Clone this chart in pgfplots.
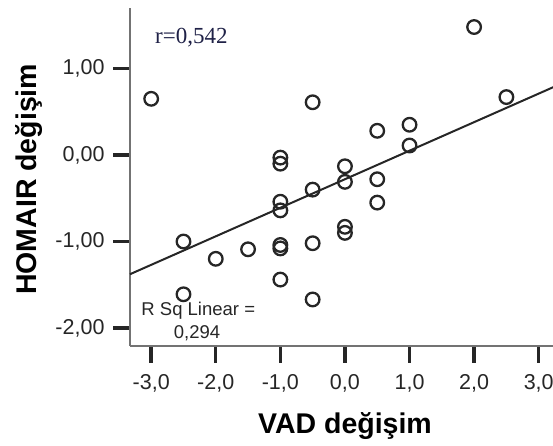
\documentclass[border=0pt]{standalone}
\usepackage{fontspec}
\setmainfont{Liberation Sans}
\newfontfamily\seriffont{Liberation Serif}
\usepackage{pgfplots}
\pgfplotsset{compat=1.18}

\definecolor{inkgray}{gray}{0.15}
\definecolor{spinegray}{gray}{0.45}
\definecolor{rtext}{rgb}{0.12,0.13,0.28}

\begin{document}
\begin{tikzpicture}[x=1pt,y=1pt]
  \useasboundingbox (0,0) rectangle (553,446);
  \clip (0,0) rectangle (553,446);
  \begin{axis}[
    at={(130pt,100pt)}, anchor=south west,
    scale only axis,
    width=430pt, height=338pt,
    xmin=-3.328, xmax=3.33,
    ymin=-2.208, ymax=1.70,
    clip=false,
    axis lines*=left,
    axis line style={-, draw=spinegray, line width=1.4pt},
    tick align=outside,
    major tick length=17pt,
    every tick/.style={line width=3.4pt, draw=black!85},
    xtick={-3,-2,-1,0,1,2,3},
    xticklabels={{-3,0},{-2,0},{-1,0},{0,0},{1,0},{2,0},{3,0}},
    ytick={-2,-1,0,1},
    yticklabels={{-2,00},{-1,00},{0,00},{1,00}},
    ticklabel style={font=\fontsize{21.5}{25}\selectfont, text=inkgray},
    xticklabel style={yshift=-8pt},
    yticklabel style={xshift=-5pt},
    xlabel={VAD değişim},
    ylabel={HOMAIR değişim},
    xlabel style={font=\fontsize{28.5}{32}\bfseries\selectfont, text=black,
      at={(axis description cs:0.5,-0.258)}, anchor=base},
    ylabel style={font=\fontsize{28.5}{32}\bfseries\selectfont, text=black,
      at={(axis description cs:-0.217,0.493)}, anchor=base, rotate=0},
  ]
    % observations
    \addplot[only marks, mark=o, mark size=6.8pt,
      mark options={draw=inkgray, line width=2.3pt}]
      coordinates {
        (-3,0.65) (2,1.48) (-0.5,0.61) (2.5,0.67) (0.5,0.28)
        (1,0.35) (1,0.11) (-1,-0.03) (-1,-0.10) (0,-0.13)
        (0,-0.31) (-0.5,-0.40) (0.5,-0.28) (0.5,-0.55) (-1,-0.54)
        (-1,-0.64) (-2.5,-1.00) (-2,-1.20) (-1.5,-1.09) (-2.5,-1.61)
        (-1,-1.04) (-1,-1.08) (-1,-1.44) (-0.5,-1.02) (0,-0.83)
        (0,-0.90) (-0.5,-1.67)
      };
    % least-squares fit line
    \addplot[draw=inkgray, line width=2pt] coordinates {
      (-3.328,-1.378) (3.33,0.819)
    };
    \node[anchor=base west, inner sep=0, text=rtext,
      font=\fontsize{23}{26}\seriffont\selectfont]
      at (axis cs:-2.941,1.291) {r=0,542};
    \node[anchor=base, inner sep=0, text=inkgray,
      font=\fontsize{18.5}{22}\selectfont]
      at (axis cs:-2.271,-1.852) {R Sq Linear =};
    \node[anchor=base, inner sep=0, text=inkgray,
      font=\fontsize{18.5}{22}\selectfont]
      at (axis cs:-2.291,-2.122) {0,294};
  \end{axis}
\end{tikzpicture}
\end{document}
